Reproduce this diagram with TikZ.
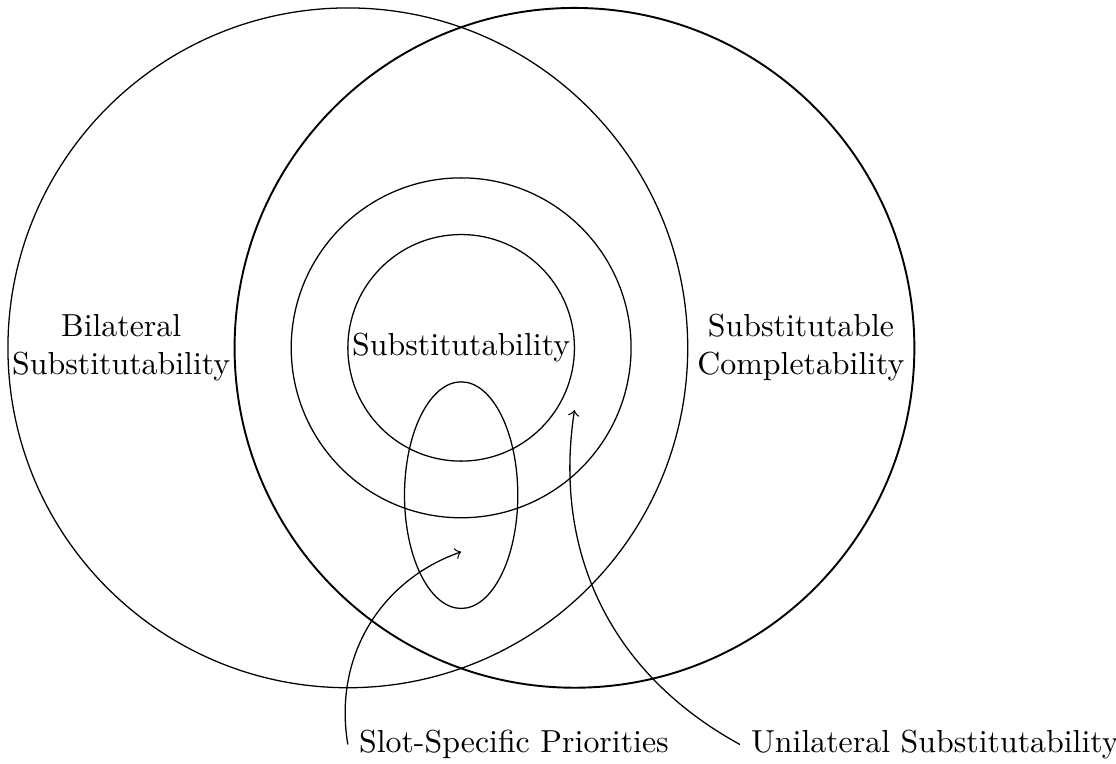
\documentclass[tikz,border=0pt]{standalone}
\usepackage{amsmath,amssymb}
\usepackage{xcolor}
\usepackage{tikz}
\usetikzlibrary{calc,positioning}

\begin{document}
\begin{tikzpicture}[scale=1.25]

	% --- 0. 画布范围 ---
	\useasboundingbox (-3.07,-3.67) rectangle (6.78,3.07);

	% --- 1. 定义核心坐标 ---
	\coordinate (L) at (0,0);     % 左大圆圆心
	\coordinate (R) at (2,0);     % 右大圆圆心
	\coordinate (M) at (1,0);     % 同心圆圆心
	\coordinate (E) at (1,-1.3);  % 椭圆中心

	% --- 2. 两个大圆 ---
	\draw (L) circle (3);
	\draw[semithick] (R) circle (3);

	% --- 3. 同心圆与椭圆 ---
	\draw (M) circle (1.5);
	\draw (M) circle (1);
	\draw (E) ellipse (0.5 and 1);

	% --- 4. 区域标注 ---
	\node[align=center] (bilat) at (-2,0) {Bilateral\\Substitutability};
	\node[align=center] (compl) at (4,0) {Substitutable\\Completability};
	\node (subst) at (M) {Substitutability};

	% --- 5. 底部文字与指向箭头 ---
	\node[anchor=west] (slot) at (0,-3.5) {Slot-Specific Priorities};
	\node[anchor=west] (unil) at (3.46,-3.5) {Unilateral Substitutability};

	\coordinate (slotTip) at (1,-1.8);
	\coordinate (unilTip) at (2,-0.55);

	\draw[->] (slot.west) to[bend left=40] (slotTip);
	\draw[->] (unil.west) to[bend left=35] (unilTip);

\end{tikzpicture}
\end{document}
